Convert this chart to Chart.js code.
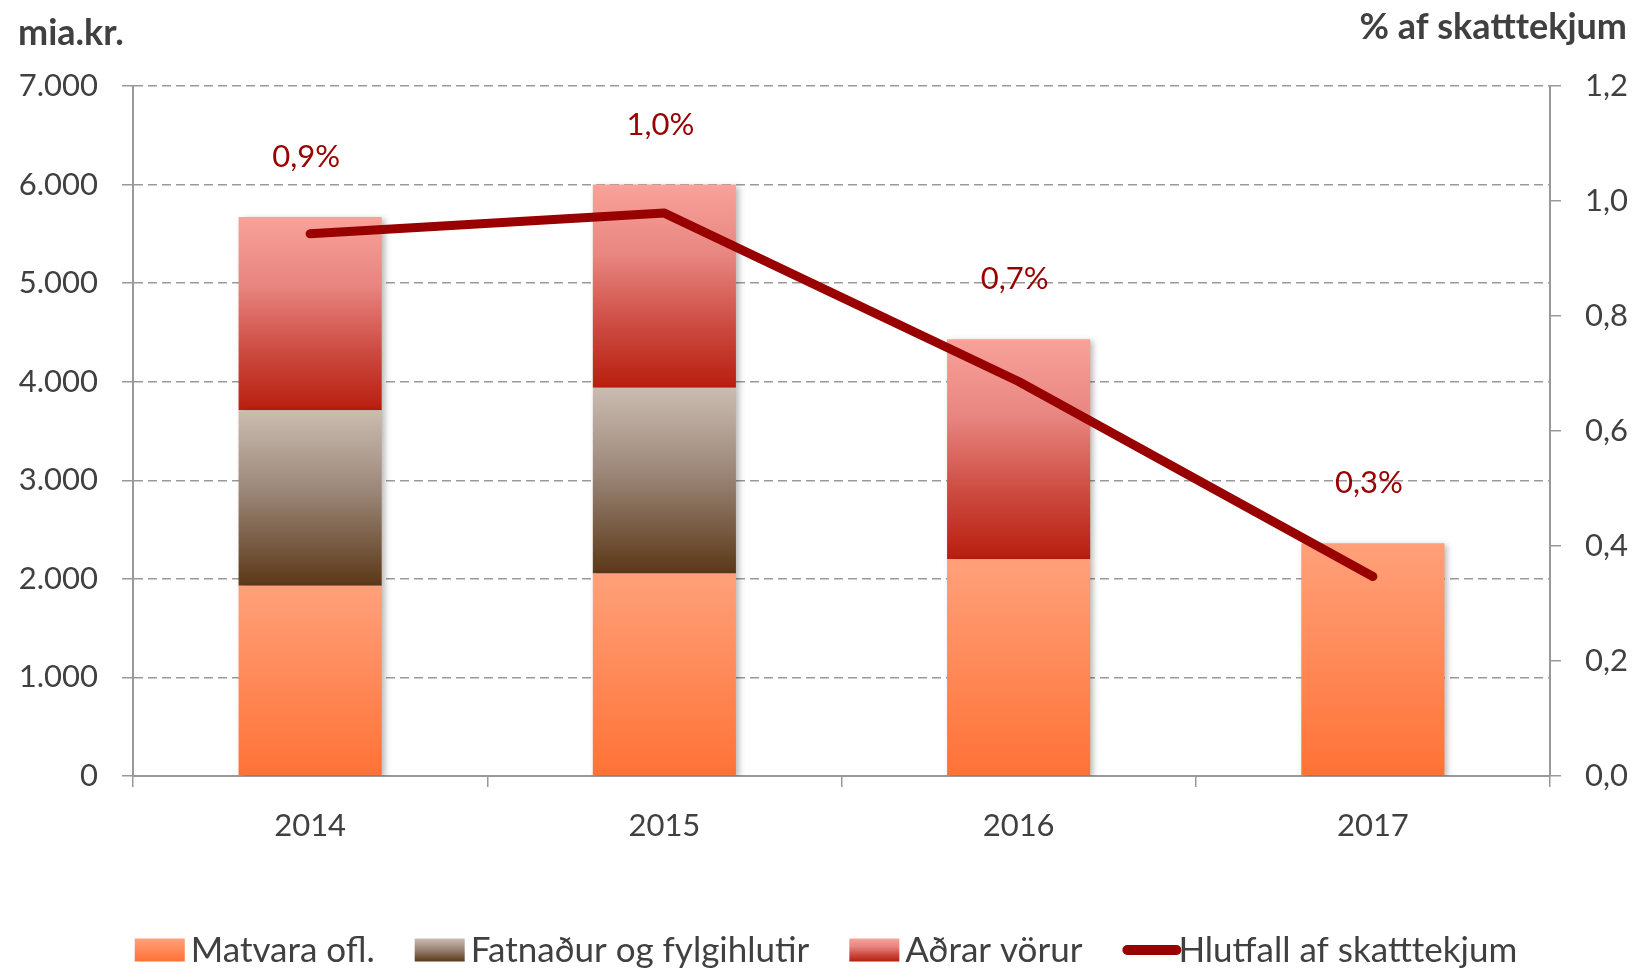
<!DOCTYPE html>
<html>
<head>
<meta charset="utf-8">
<style>
html, body { margin: 0; padding: 0; background: #fff; }
#umgjord { width: 1637px; height: 970px; position: relative; }
</style>
<script src="https://cdn.jsdelivr.net/npm/chart.js@4.4.1/dist/chart.umd.min.js"></script>
</head>
<body>
<div id="umgjord"><canvas id="grafVsk" width="1637" height="970"></canvas></div>
<script>
// Gögn - lesin af myndinni (mia.kr. og % af skatttekjum)
var ar = ['2014', '2015', '2016', '2017'];
var matvara = [1930, 2055, 2200, 2360];
var fatnadur = [1780, 1885, 0, 0];
var adrar = [1960, 2060, 2230, 0];
var hlutfall = [0.943, 0.979, 0.686, 0.347];
var heiti = ['Matvara ofl.', 'Fatnaður og fylgihlutir', 'Aðrar vörur', 'Hlutfall af skatttekjum'];
var vinstriAs = [0, 7000, 1000];   // min, max, skref
var haegriAs = [0, 1.2, 0.2];

(function() {
    'use strict';

    var stafli = [matvara, fatnadur, adrar];
    var textalitur = '#404040';
    var linulitur = '#990000';
    var leturheiti = "Lato, 'Open Sans', sans-serif";

    // Litastiglar fyrir súlurnar (efst -> neðst)
    var stiglar = [
        [[0, '#FFA07A'], [1, '#FF7236']],
        [[0, '#CBBCB1'], [0.45, '#9C887A'], [1, '#5B3817']],
        [[0, '#F8A29A'], [0.35, '#E88580'], [0.7, '#CC4A40'], [1, '#B81E0E']]
    ];

    function stigull(nr) {
        return function(c) {
            var chart = c.chart;
            var stops = stiglar[nr];
            if (!chart.chartArea || c.type !== 'data') return stops[stops.length - 1][1];
            var i = c.dataIndex;
            var undir = 0;
            for (var k = 0; k < nr; k++) undir += stafli[k][i];
            var yfir = undir + stafli[nr][i];
            var y = chart.scales.y;
            var y0 = y.getPixelForValue(yfir), y1 = y.getPixelForValue(undir);
            if (y1 - y0 < 1) return stops[0][1];
            var g = chart.ctx.createLinearGradient(0, y0, 0, y1);
            stops.forEach(function(s) { g.addColorStop(s[0], s[1]); });
            return g;
        };
    }

    function legendStigull(ctx, nr, y0, y1) {
        var g = ctx.createLinearGradient(0, y0, 0, y1);
        stiglar[nr].forEach(function(s) { g.addColorStop(s[0], s[1]); });
        return g;
    }

    // Skuggi undir súlum
    var skuggi = {
        id: 'skuggi',
        beforeDatasetDraw: function(chart, args) {
            if (args.meta.type !== 'bar') return;
            var ctx = chart.ctx;
            ctx.save();
            ctx.shadowColor = 'rgba(0,0,0,0.28)';
            ctx.shadowBlur = 6;
            ctx.shadowOffsetX = 3;
            ctx.shadowOffsetY = 2;
        },
        afterDatasetDraw: function(chart, args) {
            if (args.meta.type !== 'bar') return;
            chart.ctx.restore();
        }
    };

    // Prósentumerki ofan við súlurnar
    var merki = {
        id: 'merki',
        afterDatasetsDraw: function(chart) {
            var ctx = chart.ctx;
            var x = chart.scales.x, y = chart.scales.y;
            ctx.save();
            ctx.font = '31px ' + leturheiti;
            ctx.fillStyle = linulitur;
            ctx.textAlign = 'center';
            ctx.textBaseline = 'middle';
            for (var i = 0; i < ar.length; i++) {
                var samtals = matvara[i] + fatnadur[i] + adrar[i];
                var texti = hlutfall[i].toFixed(1).replace('.', ',') + '%';
                ctx.fillText(texti, x.getPixelForValue(i) - 4, y.getPixelForValue(samtals) - 60);
            }
            ctx.restore();
        }
    };

    // Ásaheiti og skýringar
    var rammi = {
        id: 'rammi',
        afterDraw: function(chart) {
            var ctx = chart.ctx;
            ctx.save();
            ctx.fillStyle = textalitur;
            ctx.font = 'bold 36px ' + leturheiti;
            ctx.textBaseline = 'alphabetic';
            ctx.textAlign = 'left';
            ctx.fillText('mia.kr.', 18, 45);
            ctx.textAlign = 'right';
            ctx.fillText('% af skatttekjum', 1627, 39);

            // Skýringar neðst
            ctx.font = '35px ' + leturheiti;
            ctx.textBaseline = 'middle';
            ctx.textAlign = 'left';
            var midja = 950, kassiB = 50, kassiH = 23, bil = 6, milli = 40;
            var breiddir = heiti.map(function(h) { return ctx.measureText(h).width; });
            var alls = 0;
            breiddir.forEach(function(b) { alls += kassiB + bil + b; });
            alls += milli * (heiti.length - 1);
            var x = 826 - alls / 2;
            for (var i = 0; i < heiti.length; i++) {
                if (i < 3) {
                    ctx.fillStyle = legendStigull(ctx, i, midja - kassiH / 2, midja + kassiH / 2);
                    ctx.fillRect(x, midja - kassiH / 2, kassiB, kassiH);
                } else {
                    ctx.strokeStyle = linulitur;
                    ctx.lineWidth = 10;
                    ctx.lineCap = 'round';
                    ctx.beginPath();
                    ctx.moveTo(x + 5, midja);
                    ctx.lineTo(x + kassiB + 4, midja);
                    ctx.stroke();
                }
                ctx.fillStyle = textalitur;
                ctx.fillText(heiti[i], x + kassiB + bil, midja + 1);
                x += kassiB + bil + breiddir[i] + milli;
            }
            ctx.restore();
        }
    };

    var ctx = document.getElementById('grafVsk');

    new Chart(ctx, {
        type: 'bar',
        data: {
            labels: ar,
            datasets: [
                { label: heiti[0], data: matvara, backgroundColor: stigull(0), order: 1 },
                { label: heiti[1], data: fatnadur, backgroundColor: stigull(1), order: 1 },
                { label: heiti[2], data: adrar, backgroundColor: stigull(2), order: 1 },
                {
                    type: 'line', label: heiti[3], data: hlutfall, yAxisID: 'y1',
                    borderColor: linulitur, backgroundColor: linulitur, borderWidth: 9,
                    borderCapStyle: 'round', borderJoinStyle: 'round',
                    pointRadius: 0, tension: 0, fill: false, order: 0
                }
            ]
        },
        options: {
            responsive: false,
            animation: false,
            devicePixelRatio: 1,
            layout: { padding: { top: 86, left: 0, right: 0, bottom: 0 } },
            datasets: { bar: { barPercentage: 0.404, categoryPercentage: 1 } },
            plugins: { legend: { display: false }, tooltip: { enabled: false }, title: { display: false } },
            scales: {
                x: {
                    stacked: true,
                    offset: true,
                    afterFit: function(s) { s.height = 194; },
                    grid: { display: true, drawOnChartArea: false, drawTicks: true, tickLength: 11, offset: true, color: '#999', lineWidth: 1.5 },
                    border: { display: true, color: '#999', width: 2 },
                    ticks: { color: textalitur, font: { family: leturheiti, size: 31 }, padding: 20 }
                },
                y: {
                    stacked: true,
                    position: 'left',
                    min: vinstriAs[0], max: vinstriAs[1],
                    afterFit: function(s) { s.width = 133; },
                    grid: { color: '#999', lineWidth: 1.5, tickLength: 11, tickColor: '#999', tickBorderDash: [] },
                    border: { display: true, color: '#999', width: 2, dash: [9, 5] },
                    ticks: {
                        stepSize: vinstriAs[2], color: textalitur, padding: 24,
                        font: { family: leturheiti, size: 31 },
                        callback: function(v) { return String(v).replace(/\B(?=(\d{3})+(?!\d))/g, '.'); }
                    }
                },
                y1: {
                    position: 'right',
                    min: haegriAs[0], max: haegriAs[1],
                    afterFit: function(s) { s.width = 87; },
                    grid: { drawOnChartArea: false, tickLength: 11, color: '#999', lineWidth: 1.5 },
                    border: { display: true, color: '#999', width: 2 },
                    ticks: {
                        stepSize: haegriAs[2], color: textalitur, padding: 24,
                        font: { family: leturheiti, size: 31 },
                        callback: function(v) { return Number(v).toFixed(1).replace('.', ','); }
                    }
                }
            }
        },
        plugins: [skuggi, merki, rammi]
    });
})();
</script>
</body>
</html>
